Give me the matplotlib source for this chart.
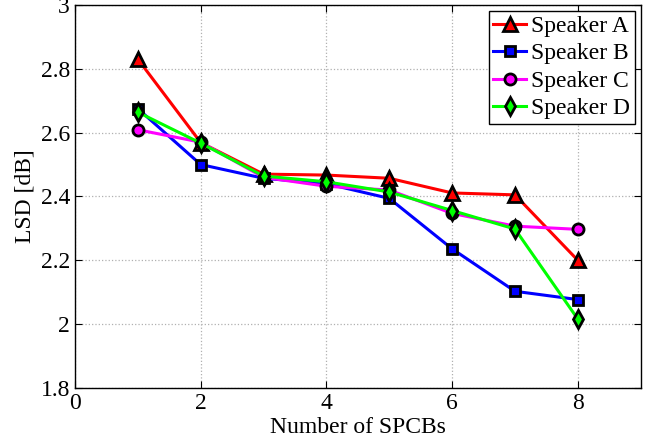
import numpy as np
import matplotlib.pyplot as plt

plt.rcParams['font.family'] = ['Liberation Serif', 'DejaVu Serif']

# Data
spcbs = [1, 2, 3, 4, 5, 6, 7, 8]
speaker_a = [2.830, 2.569, 2.470, 2.467, 2.457, 2.411, 2.405, 2.200]
speaker_b = [2.675, 2.500, 2.457, 2.440, 2.394, 2.236, 2.103, 2.077]
speaker_c = [2.609, 2.570, 2.460, 2.432, 2.420, 2.347, 2.307, 2.297]
speaker_d = [2.664, 2.567, 2.464, 2.446, 2.414, 2.356, 2.298, 2.016]

fig = plt.figure(figsize=(6.48, 4.46), dpi=100)
ax = fig.add_axes([0.1157, 0.130, 0.873, 0.859])

ax.plot(spcbs, speaker_a, color='red', lw=2.2, marker='^', ms=10,
        mfc='red', mec='black', mew=2, label='Speaker A')
ax.plot(spcbs, speaker_b, color='blue', lw=2.2, marker='s', ms=7,
        mfc='blue', mec='black', mew=2, label='Speaker B')
ax.plot(spcbs, speaker_c, color='magenta', lw=2.2, marker='o', ms=8,
        mfc='magenta', mec='black', mew=2, label='Speaker C')
ax.plot(spcbs, speaker_d, color='#00ff00', lw=2.2, marker='d', ms=9,
        mfc='#00ff00', mec='black', mew=2, label='Speaker D')

ax.set_xlim(0, 9)
ax.set_ylim(1.8, 3)
ax.set_xticks([0, 2, 4, 6, 8])
ax.set_yticks([1.8, 2, 2.2, 2.4, 2.6, 2.8, 3])
ax.set_yticklabels(['1.8', '2', '2.2', '2.4', '2.6', '2.8', '3'])
ax.tick_params(direction='in', labelsize=17, length=5, top=True, right=True)
ax.grid(True, linestyle=':', color='#b0b0b0', lw=0.9)
for s in ax.spines.values():
    s.set_linewidth(1.0)

ax.set_xlabel('Number of SPCBs', fontsize=17, labelpad=2)
ax.set_ylabel('LSD [dB]', fontsize=17, labelpad=4)

leg = ax.legend(loc='upper right', fontsize=17, fancybox=False, framealpha=1,
                edgecolor='black', borderpad=0.2, labelspacing=0.25,
                handlelength=1.4, handletextpad=0.2, borderaxespad=0.25)
leg.get_frame().set_linewidth(1.0)

fig.savefig('out.png', dpi=100)
